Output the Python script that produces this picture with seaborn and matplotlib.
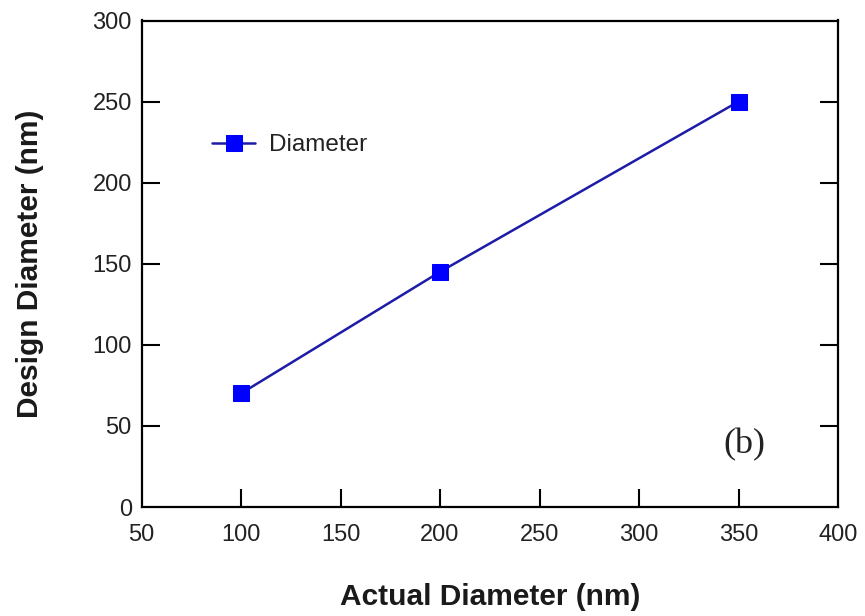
import matplotlib
matplotlib.use("Agg")
import matplotlib.pyplot as plt
import seaborn as sns
import pandas as pd

actual = [100, 200, 350]
design = [70, 145, 250]
series_name = "Diameter"
xticks = [50, 100, 150, 200, 250, 300, 350, 400]
yticks = [0, 50, 100, 150, 200, 250, 300]

sns.set_theme(style="white")
plt.rcParams['font.family'] = ['Liberation Sans', 'DejaVu Sans']

df = pd.DataFrame({"Actual": actual, "Design": design, "Series": series_name})

fig = plt.figure(figsize=(8.65, 6.16), dpi=100)
ax = fig.add_axes([141.5/865, 1 - 507/616, (838 - 141.5)/865, (507 - 20.5)/616])

sns.lineplot(data=df, x="Actual", y="Design", hue="Series", palette=["#1c1ca8"],
             marker="s", markersize=11.5, markerfacecolor="#0000ff",
             markeredgecolor="#0000ff", linewidth=1.8, ax=ax)

ax.set_xlim(50, 400)
ax.set_ylim(0, 300)
ax.set_xticks(xticks)
ax.set_yticks(yticks)
for s in ax.spines.values():
    s.set_color("black")
    s.set_linewidth(1.6)
ax.tick_params(axis="both", direction="in", length=13, width=1.5, labelsize=17,
               colors="black", labelcolor="#222222")
ax.tick_params(axis="y", right=True, left=True, pad=7)
ax.tick_params(axis="x", bottom=True, top=False, pad=12)

# hide tick marks that would lie along the frame edges
xt = ax.xaxis.get_major_ticks()
xt[0].tick1line.set_visible(False)
xt[-1].tick1line.set_visible(False)
yt = ax.yaxis.get_major_ticks()
for t in (yt[0], yt[-1]):
    t.tick1line.set_visible(False)
    t.tick2line.set_visible(False)

ax.set_xlabel("Actual Diameter (nm)", fontsize=21.5, fontweight="bold",
              labelpad=27, color="#1a1a1a")
ax.set_ylabel("Design Diameter (nm)", fontsize=21.5, fontweight="bold",
              labelpad=35, color="#1a1a1a")

leg = ax.legend(loc="center left", bbox_to_anchor=(0.1008, 0.744), frameon=False,
                fontsize=17.5, handlelength=1.8, handletextpad=0.54,
                borderaxespad=0, borderpad=0)
for t in leg.get_texts():
    t.set_color("#222222")

ax.text(0.835, 0.127, "(b)", transform=ax.transAxes, fontsize=26,
        family=["Liberation Serif", "DejaVu Serif"], ha="left", va="center",
        color="#222222")

fig.savefig("out.png", dpi=100)
